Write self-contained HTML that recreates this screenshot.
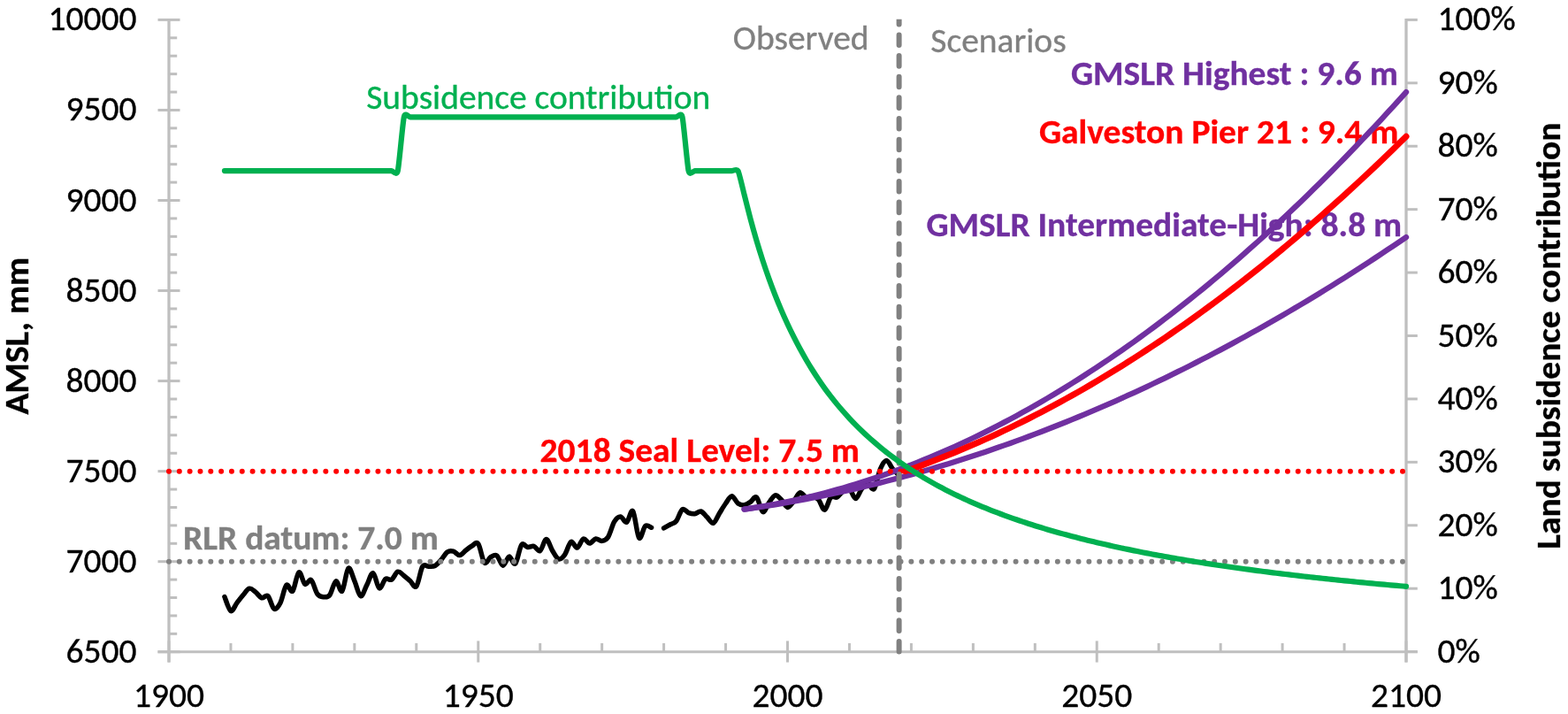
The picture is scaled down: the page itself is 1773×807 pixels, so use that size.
<!DOCTYPE html>
<html><head><meta charset="utf-8"><title>Galveston relative sea level</title>
<style>
html,body{margin:0;padding:0;background:#fff;}
svg{display:block;font-family:Carlito,"Liberation Sans",sans-serif;}
text{white-space:pre;}
</style></head>
<body>
<svg width="1773" height="807" viewBox="0 0 1773 807">
<defs><clipPath id="clipTop"><rect x="0" y="21.8" width="1773" height="800"/></clipPath></defs>
<rect width="1773" height="807" fill="#fff"/>
<!-- annotation texts (below lines) -->
<g font-size="39.5"><text x="414.20" y="122.90" fill="#00b050" stroke="#00b050" stroke-width="0.35" textLength="389.19" lengthAdjust="spacingAndGlyphs">Subsidence contribution</text>
<text x="828.80" y="56.20" fill="#808080" stroke="#808080" stroke-width="0.35" textLength="153.83" lengthAdjust="spacingAndGlyphs">Observed</text>
<text x="1052.30" y="58.70" fill="#808080" stroke="#808080" stroke-width="0.35" textLength="153.3" lengthAdjust="spacingAndGlyphs">Scenarios</text>
<text transform="matrix(1,0,0,0.96,1210.90,95.80)" fill="#7030a0" stroke="#7030a0" stroke-width="0.35" textLength="369.95" lengthAdjust="spacingAndGlyphs" font-weight="bold">GMSLR Highest : 9.6 m</text>
<text transform="matrix(1,0,0,0.96,1174.90,161.70)" fill="#ff0000" stroke="#ff0000" stroke-width="0.35" textLength="406.44" lengthAdjust="spacingAndGlyphs" font-weight="bold">Galveston Pier 21 : 9.4 m</text>
<text transform="matrix(1,0,0,0.96,1047.40,266.60)" fill="#7030a0" stroke="#7030a0" stroke-width="0.35" textLength="537.8" lengthAdjust="spacingAndGlyphs" font-weight="bold">GMSLR Intermediate-High: 8.8 m</text>
<text transform="matrix(1,0,0,0.96,610.60,521.50)" fill="#ff0000" stroke="#ff0000" stroke-width="0.35" textLength="361.34" lengthAdjust="spacingAndGlyphs" font-weight="bold">2018 Seal Level: 7.5 m</text>
<text transform="matrix(1,0,0,0.96,207.10,620.80)" fill="#808080" stroke="#808080" stroke-width="0.35" textLength="288.84" lengthAdjust="spacingAndGlyphs" font-weight="bold">RLR datum: 7.0 m</text>
<text transform="translate(32.20,379.70) rotate(-90) scale(1,0.96)" fill="#000" stroke="#000" stroke-width="0.35" text-anchor="middle" textLength="177.72" lengthAdjust="spacingAndGlyphs" font-weight="bold">AMSL, mm</text>
<text transform="translate(1764.40,379.70) rotate(-90) scale(1,0.96)" fill="#000" stroke="#000" stroke-width="0.35" text-anchor="middle" textLength="482.17" lengthAdjust="spacingAndGlyphs" font-weight="bold">Land subsidence contribution</text></g>
<g stroke="#bfbfbf" stroke-width="3.0" fill="none"><line x1="191.0" y1="20.90" x2="191.0" y2="748.6" stroke-width="3.3"/><line x1="1590" y1="20.90" x2="1590" y2="748.6" stroke-width="3.3"/><line x1="178.5" y1="736.8" x2="1602.8" y2="736.8"/><line x1="178.5" y1="736.75" x2="203.5" y2="736.75"/><line x1="191.0" y1="716.34" x2="200.2" y2="716.34"/><line x1="191.0" y1="695.93" x2="200.2" y2="695.93"/><line x1="191.0" y1="675.52" x2="200.2" y2="675.52"/><line x1="191.0" y1="655.11" x2="200.2" y2="655.11"/><line x1="178.5" y1="634.70" x2="203.5" y2="634.70"/><line x1="191.0" y1="614.29" x2="200.2" y2="614.29"/><line x1="191.0" y1="593.88" x2="200.2" y2="593.88"/><line x1="191.0" y1="573.47" x2="200.2" y2="573.47"/><line x1="191.0" y1="553.06" x2="200.2" y2="553.06"/><line x1="178.5" y1="532.65" x2="203.5" y2="532.65"/><line x1="191.0" y1="512.24" x2="200.2" y2="512.24"/><line x1="191.0" y1="491.83" x2="200.2" y2="491.83"/><line x1="191.0" y1="471.42" x2="200.2" y2="471.42"/><line x1="191.0" y1="451.01" x2="200.2" y2="451.01"/><line x1="178.5" y1="430.60" x2="203.5" y2="430.60"/><line x1="191.0" y1="410.19" x2="200.2" y2="410.19"/><line x1="191.0" y1="389.78" x2="200.2" y2="389.78"/><line x1="191.0" y1="369.37" x2="200.2" y2="369.37"/><line x1="191.0" y1="348.96" x2="200.2" y2="348.96"/><line x1="178.5" y1="328.55" x2="203.5" y2="328.55"/><line x1="191.0" y1="308.14" x2="200.2" y2="308.14"/><line x1="191.0" y1="287.73" x2="200.2" y2="287.73"/><line x1="191.0" y1="267.32" x2="200.2" y2="267.32"/><line x1="191.0" y1="246.91" x2="200.2" y2="246.91"/><line x1="178.5" y1="226.50" x2="203.5" y2="226.50"/><line x1="191.0" y1="206.09" x2="200.2" y2="206.09"/><line x1="191.0" y1="185.68" x2="200.2" y2="185.68"/><line x1="191.0" y1="165.27" x2="200.2" y2="165.27"/><line x1="191.0" y1="144.86" x2="200.2" y2="144.86"/><line x1="178.5" y1="124.45" x2="203.5" y2="124.45"/><line x1="191.0" y1="104.04" x2="200.2" y2="104.04"/><line x1="191.0" y1="83.63" x2="200.2" y2="83.63"/><line x1="191.0" y1="63.22" x2="200.2" y2="63.22"/><line x1="191.0" y1="42.81" x2="200.2" y2="42.81"/><line x1="178.5" y1="22.40" x2="203.5" y2="22.40"/><line x1="1590" y1="736.60" x2="1602.8" y2="736.60"/><line x1="1590" y1="665.18" x2="1602.8" y2="665.18"/><line x1="1590" y1="593.76" x2="1602.8" y2="593.76"/><line x1="1590" y1="522.34" x2="1602.8" y2="522.34"/><line x1="1590" y1="450.92" x2="1602.8" y2="450.92"/><line x1="1590" y1="379.50" x2="1602.8" y2="379.50"/><line x1="1590" y1="308.08" x2="1602.8" y2="308.08"/><line x1="1590" y1="236.66" x2="1602.8" y2="236.66"/><line x1="1590" y1="165.24" x2="1602.8" y2="165.24"/><line x1="1590" y1="93.82" x2="1602.8" y2="93.82"/><line x1="1590" y1="22.40" x2="1602.8" y2="22.40"/><line x1="191.00" y1="724.4" x2="191.00" y2="748.6"/><line x1="260.95" y1="727" x2="260.95" y2="736.8"/><line x1="330.90" y1="727" x2="330.90" y2="736.8"/><line x1="400.85" y1="727" x2="400.85" y2="736.8"/><line x1="470.80" y1="727" x2="470.80" y2="736.8"/><line x1="540.75" y1="724.4" x2="540.75" y2="748.6"/><line x1="610.70" y1="727" x2="610.70" y2="736.8"/><line x1="680.65" y1="727" x2="680.65" y2="736.8"/><line x1="750.60" y1="727" x2="750.60" y2="736.8"/><line x1="820.55" y1="727" x2="820.55" y2="736.8"/><line x1="890.50" y1="724.4" x2="890.50" y2="748.6"/><line x1="960.45" y1="727" x2="960.45" y2="736.8"/><line x1="1030.40" y1="727" x2="1030.40" y2="736.8"/><line x1="1100.35" y1="727" x2="1100.35" y2="736.8"/><line x1="1170.30" y1="727" x2="1170.30" y2="736.8"/><line x1="1240.25" y1="724.4" x2="1240.25" y2="748.6"/><line x1="1310.20" y1="727" x2="1310.20" y2="736.8"/><line x1="1380.15" y1="727" x2="1380.15" y2="736.8"/><line x1="1450.10" y1="727" x2="1450.10" y2="736.8"/><line x1="1520.05" y1="727" x2="1520.05" y2="736.8"/><line x1="1590.00" y1="724.4" x2="1590.00" y2="748.6"/></g>
<g font-size="39.5"><text x="154.50" y="748.75" fill="#000" stroke="#000" stroke-width="0.35" text-anchor="end" textLength="80.09" lengthAdjust="spacingAndGlyphs">6500</text><text x="154.50" y="646.70" fill="#000" stroke="#000" stroke-width="0.35" text-anchor="end" textLength="80.09" lengthAdjust="spacingAndGlyphs">7000</text><text x="154.50" y="544.65" fill="#000" stroke="#000" stroke-width="0.35" text-anchor="end" textLength="80.09" lengthAdjust="spacingAndGlyphs">7500</text><text x="154.50" y="442.60" fill="#000" stroke="#000" stroke-width="0.35" text-anchor="end" textLength="80.09" lengthAdjust="spacingAndGlyphs">8000</text><text x="154.50" y="340.55" fill="#000" stroke="#000" stroke-width="0.35" text-anchor="end" textLength="80.09" lengthAdjust="spacingAndGlyphs">8500</text><text x="154.50" y="238.50" fill="#000" stroke="#000" stroke-width="0.35" text-anchor="end" textLength="80.09" lengthAdjust="spacingAndGlyphs">9000</text><text x="154.50" y="136.45" fill="#000" stroke="#000" stroke-width="0.35" text-anchor="end" textLength="80.09" lengthAdjust="spacingAndGlyphs">9500</text><text x="154.50" y="34.40" fill="#000" stroke="#000" stroke-width="0.35" text-anchor="end" textLength="100.11" lengthAdjust="spacingAndGlyphs">10000</text><text x="1625.50" y="748.60" fill="#000" stroke="#000" stroke-width="0.35" textLength="48.27" lengthAdjust="spacingAndGlyphs">0%</text><text x="1625.50" y="677.18" fill="#000" stroke="#000" stroke-width="0.35" textLength="68.28" lengthAdjust="spacingAndGlyphs">10%</text><text x="1625.50" y="605.76" fill="#000" stroke="#000" stroke-width="0.35" textLength="68.28" lengthAdjust="spacingAndGlyphs">20%</text><text x="1625.50" y="534.34" fill="#000" stroke="#000" stroke-width="0.35" textLength="68.28" lengthAdjust="spacingAndGlyphs">30%</text><text x="1625.50" y="462.92" fill="#000" stroke="#000" stroke-width="0.35" textLength="68.28" lengthAdjust="spacingAndGlyphs">40%</text><text x="1625.50" y="391.50" fill="#000" stroke="#000" stroke-width="0.35" textLength="68.28" lengthAdjust="spacingAndGlyphs">50%</text><text x="1625.50" y="320.08" fill="#000" stroke="#000" stroke-width="0.35" textLength="68.28" lengthAdjust="spacingAndGlyphs">60%</text><text x="1625.50" y="248.66" fill="#000" stroke="#000" stroke-width="0.35" textLength="68.28" lengthAdjust="spacingAndGlyphs">70%</text><text x="1625.50" y="177.24" fill="#000" stroke="#000" stroke-width="0.35" textLength="68.28" lengthAdjust="spacingAndGlyphs">80%</text><text x="1625.50" y="105.82" fill="#000" stroke="#000" stroke-width="0.35" textLength="68.28" lengthAdjust="spacingAndGlyphs">90%</text><text x="1625.50" y="34.40" fill="#000" stroke="#000" stroke-width="0.35" textLength="88.3" lengthAdjust="spacingAndGlyphs">100%</text><text x="191.00" y="799.40" fill="#000" stroke="#000" stroke-width="0.35" text-anchor="middle" textLength="80.09" lengthAdjust="spacingAndGlyphs">1900</text><text x="540.75" y="799.40" fill="#000" stroke="#000" stroke-width="0.35" text-anchor="middle" textLength="80.09" lengthAdjust="spacingAndGlyphs">1950</text><text x="890.50" y="799.40" fill="#000" stroke="#000" stroke-width="0.35" text-anchor="middle" textLength="80.09" lengthAdjust="spacingAndGlyphs">2000</text><text x="1240.25" y="799.40" fill="#000" stroke="#000" stroke-width="0.35" text-anchor="middle" textLength="80.09" lengthAdjust="spacingAndGlyphs">2050</text><text x="1590.00" y="799.40" fill="#000" stroke="#000" stroke-width="0.35" text-anchor="middle" textLength="80.09" lengthAdjust="spacingAndGlyphs">2100</text></g>
<!-- series -->
<g fill="none" stroke-linecap="round" stroke-linejoin="round">
<path d="M253.95,674.50C255.12,677.17 258.62,689.35 260.95,690.50C263.28,691.65 265.61,684.40 267.94,681.40C270.28,678.40 272.61,675.20 274.94,672.50C277.27,669.80 279.60,665.77 281.94,665.20C284.27,664.63 286.60,667.33 288.93,669.10C291.26,670.87 293.59,675.05 295.93,675.80C298.26,676.55 300.59,671.55 302.92,673.60C305.25,675.65 307.58,686.80 309.92,688.10C312.25,689.40 314.58,685.87 316.91,681.40C319.24,676.93 321.57,663.53 323.90,661.30C326.24,659.07 328.57,670.42 330.90,668.00C333.23,665.58 335.56,648.10 337.89,646.80C340.23,645.50 342.56,658.72 344.89,660.20C347.22,661.68 349.55,653.85 351.88,655.70C354.22,657.55 356.55,668.13 358.88,671.30C361.21,674.47 363.54,674.50 365.88,674.70C368.21,674.90 370.54,675.48 372.87,672.50C375.20,669.52 377.53,657.55 379.87,656.80C382.20,656.05 384.53,670.40 386.86,668.00C389.19,665.60 391.52,644.30 393.86,642.40C396.19,640.50 398.52,651.38 400.85,656.60C403.18,661.82 405.51,672.95 407.85,673.70C410.18,674.45 412.51,665.43 414.84,661.10C417.17,656.77 419.50,647.08 421.84,647.70C424.17,648.32 426.50,663.68 428.83,664.80C431.16,665.92 433.49,656.02 435.83,654.40C438.16,652.78 440.49,656.47 442.82,655.10C445.15,653.73 447.48,646.93 449.81,646.20C452.15,645.47 454.48,648.97 456.81,650.70C459.14,652.43 461.47,654.62 463.81,656.60C466.14,658.58 468.47,665.32 470.80,662.60C473.13,659.88 475.46,644.02 477.80,640.30C480.13,636.58 482.46,640.43 484.79,640.30C487.12,640.17 489.45,640.75 491.79,639.50C494.12,638.25 496.45,635.40 498.78,632.80C501.11,630.20 503.44,625.50 505.77,623.90C508.11,622.30 510.44,622.58 512.77,623.20C515.10,623.82 517.43,627.80 519.76,627.60C522.10,627.40 524.43,623.77 526.76,622.00C529.09,620.23 531.42,618.23 533.75,617.00C536.09,615.77 538.42,611.47 540.75,614.60C543.08,617.73 545.41,633.28 547.75,635.80C550.08,638.32 552.41,631.00 554.74,629.70C557.07,628.40 559.40,626.42 561.74,628.00C564.07,629.58 566.40,639.02 568.73,639.20C571.06,639.38 573.39,629.47 575.73,629.10C578.06,628.73 580.39,639.22 582.72,637.00C585.05,634.78 587.38,618.88 589.72,615.80C592.05,612.72 594.38,618.23 596.71,618.50C599.04,618.77 601.37,616.73 603.70,617.40C606.04,618.07 608.37,623.80 610.70,622.50C613.03,621.20 615.36,609.60 617.69,609.60C620.03,609.60 622.36,618.78 624.69,622.50C627.02,626.22 629.35,631.17 631.68,631.90C634.02,632.63 636.35,630.15 638.68,626.90C641.01,623.65 643.34,613.70 645.67,612.40C648.01,611.10 650.34,619.67 652.67,619.10C655.00,618.53 657.33,609.85 659.66,609.00C662.00,608.15 664.33,614.00 666.66,614.00C668.99,614.00 671.32,609.43 673.65,609.00C675.99,608.57 678.32,611.75 680.65,611.40C682.98,611.05 685.31,610.53 687.64,606.90C689.98,603.27 692.31,593.42 694.64,589.60C696.97,585.78 699.30,583.90 701.63,584.00C703.97,584.10 706.30,591.23 708.63,590.20C710.96,589.17 713.29,574.83 715.62,577.80C717.96,580.77 720.29,605.20 722.62,608.00C724.95,610.80 727.28,596.55 729.62,594.60C731.95,592.65 735.44,596.02 736.61,596.30M750.60,596.90C751.77,596.25 755.26,594.32 757.60,593.00C759.93,591.68 762.26,591.87 764.59,589.00C766.92,586.13 769.25,577.37 771.59,575.80C773.92,574.23 776.25,578.78 778.58,579.60C780.91,580.42 783.24,580.97 785.58,580.70C787.91,580.43 790.24,577.35 792.57,578.00C794.90,578.65 797.23,582.38 799.57,584.60C801.90,586.82 804.23,592.07 806.56,591.30C808.89,590.53 811.22,583.72 813.56,580.00C815.89,576.28 818.22,572.20 820.55,569.00C822.88,565.80 825.21,560.80 827.54,560.80C829.88,560.80 832.21,567.33 834.54,569.00C836.87,570.67 839.20,571.08 841.53,570.80C843.87,570.52 846.20,568.75 848.53,567.30C850.86,565.85 853.19,560.22 855.52,562.10C857.86,563.98 860.19,577.58 862.52,578.60C864.85,579.62 867.18,571.33 869.51,568.20C871.85,565.07 874.18,560.38 876.51,559.80C878.84,559.22 881.17,562.43 883.50,564.70C885.84,566.97 888.17,573.12 890.50,573.40C892.83,573.68 895.16,569.15 897.50,566.40C899.83,563.65 902.16,557.63 904.49,556.90C906.82,556.17 909.15,561.32 911.49,562.00C913.82,562.68 916.15,560.55 918.48,561.00C920.81,561.45 923.14,562.15 925.48,564.70C927.81,567.25 930.14,576.75 932.47,576.30C934.80,575.85 937.13,564.38 939.47,562.00C941.80,559.62 944.13,563.17 946.46,562.00C948.79,560.83 951.12,556.60 953.46,555.00C955.79,553.40 958.12,550.97 960.45,552.40C962.78,553.83 965.11,563.60 967.45,563.60C969.78,563.60 972.11,555.20 974.44,552.40C976.77,549.60 979.10,546.80 981.44,546.80C983.77,546.80 986.10,555.20 988.43,552.40C990.76,549.60 993.09,535.32 995.43,530.00C997.76,524.68 1000.09,520.50 1002.42,520.50C1004.75,520.50 1007.08,527.25 1009.41,530.00C1011.75,532.75 1015.24,535.83 1016.41,537.00" stroke="#000" stroke-width="5.5"/>
<line x1="191.0" y1="634.70" x2="1590" y2="634.70" stroke="#808080" stroke-width="6" stroke-dasharray="0 11.822"/>
<path d="M841.53,575.58 L848.53,574.59 L855.52,573.56 L862.52,572.50 L869.51,571.41 L876.51,570.27 L883.50,569.11 L890.50,567.90 L897.50,566.67 L904.49,565.39 L911.49,564.08 L918.48,562.74 L925.48,561.36 L932.47,559.94 L939.47,558.49 L946.46,557.00 L953.46,555.48 L960.45,553.92 L967.45,552.33 L974.44,550.70 L981.44,549.03 L988.43,547.33 L995.43,545.59 L1002.42,543.82 L1009.41,542.02 L1016.41,540.17 L1023.40,538.29 L1030.40,536.38 L1037.39,534.43 L1044.39,532.45 L1051.38,530.43 L1058.38,528.37 L1065.38,526.28 L1072.37,524.15 L1079.37,521.99 L1086.36,519.79 L1093.36,517.55 L1100.35,515.29 L1107.35,512.98 L1114.34,510.64 L1121.34,508.26 L1128.33,505.85 L1135.33,503.40 L1142.32,500.92 L1149.32,498.40 L1156.31,495.85 L1163.31,493.26 L1170.30,490.64 L1177.30,487.97 L1184.29,485.28 L1191.28,482.55 L1198.28,479.78 L1205.28,476.98 L1212.27,474.14 L1219.27,471.26 L1226.26,468.35 L1233.26,465.41 L1240.25,462.43 L1247.25,459.41 L1254.24,456.36 L1261.24,453.27 L1268.23,450.15 L1275.22,446.99 L1282.22,443.80 L1289.21,440.57 L1296.21,437.30 L1303.20,434.00 L1310.20,430.67 L1317.19,427.30 L1324.19,423.89 L1331.18,420.45 L1338.18,416.97 L1345.17,413.45 L1352.17,409.90 L1359.16,406.32 L1366.16,402.70 L1373.15,399.04 L1380.15,395.35 L1387.14,391.62 L1394.14,387.86 L1401.13,384.06 L1408.13,380.23 L1415.12,376.36 L1422.12,372.45 L1429.12,368.51 L1436.11,364.54 L1443.11,360.53 L1450.10,356.48 L1457.10,352.40 L1464.09,348.28 L1471.09,344.12 L1478.08,339.94 L1485.08,335.71 L1492.07,331.45 L1499.07,327.15 L1506.06,322.82 L1513.06,318.45 L1520.05,314.05 L1527.05,309.61 L1534.04,305.14 L1541.04,300.63 L1548.03,296.09 L1555.03,291.50 L1562.02,286.89 L1569.02,282.24 L1576.01,277.55 L1583.01,272.83 L1590.00,268.07" stroke="#7030a0" stroke-width="6.3"/>
<path d="M841.53,575.56 L848.53,574.53 L855.52,573.44 L862.52,572.28 L869.51,571.05 L876.51,569.77 L883.50,568.42 L890.50,567.00 L897.50,565.53 L904.49,563.99 L911.49,562.38 L918.48,560.71 L925.48,558.98 L932.47,557.18 L939.47,555.32 L946.46,553.40 L953.46,551.41 L960.45,549.36 L967.45,547.25 L974.44,545.07 L981.44,542.83 L988.43,540.52 L995.43,538.16 L1002.42,535.72 L1009.41,533.23 L1016.41,530.67 L1023.40,528.04 L1030.40,525.36 L1037.39,522.60 L1044.39,519.79 L1051.38,516.91 L1058.38,513.97 L1065.38,510.96 L1072.37,507.89 L1079.37,504.76 L1086.36,501.56 L1093.36,498.30 L1100.35,494.98 L1107.35,491.59 L1114.34,488.14 L1121.34,484.62 L1128.33,481.05 L1135.33,477.40 L1142.32,473.70 L1149.32,469.93 L1156.31,466.09 L1163.31,462.20 L1170.30,458.24 L1177.30,454.21 L1184.29,450.12 L1191.28,445.97 L1198.28,441.75 L1205.28,437.48 L1212.27,433.13 L1219.27,428.73 L1226.26,424.25 L1233.26,419.72 L1240.25,415.12 L1247.25,410.46 L1254.24,405.74 L1261.24,400.95 L1268.23,396.10 L1275.22,391.18 L1282.22,386.20 L1289.21,381.16 L1296.21,376.05 L1303.20,370.88 L1310.20,365.64 L1317.19,360.34 L1324.19,354.98 L1331.18,349.56 L1338.18,344.07 L1345.17,338.52 L1352.17,332.90 L1359.16,327.22 L1366.16,321.47 L1373.15,315.67 L1380.15,309.80 L1387.14,303.86 L1394.14,297.86 L1401.13,291.80 L1408.13,285.67 L1415.12,279.48 L1422.12,273.23 L1429.12,266.91 L1436.11,260.53 L1443.11,254.09 L1450.10,247.58 L1457.10,241.01 L1464.09,234.37 L1471.09,227.67 L1478.08,220.91 L1485.08,214.08 L1492.07,207.19 L1499.07,200.24 L1506.06,193.22 L1513.06,186.14 L1520.05,179.00 L1527.05,171.79 L1534.04,164.51 L1541.04,157.18 L1548.03,149.78 L1555.03,142.32 L1562.02,134.79 L1569.02,127.20 L1576.01,119.54 L1583.01,111.83 L1590.00,104.04" stroke="#7030a0" stroke-width="6.3"/>
<path d="M1023.40,532.65 L1030.40,530.19 L1037.39,527.68 L1044.39,525.11 L1051.38,522.49 L1058.38,519.81 L1065.38,517.08 L1072.37,514.29 L1079.37,511.45 L1086.36,508.55 L1093.36,505.59 L1100.35,502.58 L1107.35,499.52 L1114.34,496.40 L1121.34,493.22 L1128.33,489.99 L1135.33,486.70 L1142.32,483.36 L1149.32,479.96 L1156.31,476.50 L1163.31,473.00 L1170.30,469.43 L1177.30,465.81 L1184.29,462.14 L1191.28,458.41 L1198.28,454.62 L1205.28,450.78 L1212.27,446.88 L1219.27,442.93 L1226.26,438.92 L1233.26,434.86 L1240.25,430.74 L1247.25,426.57 L1254.24,422.34 L1261.24,418.05 L1268.23,413.71 L1275.22,409.32 L1282.22,404.87 L1289.21,400.36 L1296.21,395.80 L1303.20,391.18 L1310.20,386.51 L1317.19,381.78 L1324.19,377.00 L1331.18,372.16 L1338.18,367.27 L1345.17,362.32 L1352.17,357.32 L1359.16,352.26 L1366.16,347.14 L1373.15,341.97 L1380.15,336.74 L1387.14,331.46 L1394.14,326.13 L1401.13,320.73 L1408.13,315.29 L1415.12,309.78 L1422.12,304.22 L1429.12,298.61 L1436.11,292.94 L1443.11,287.22 L1450.10,281.44 L1457.10,275.60 L1464.09,269.71 L1471.09,263.76 L1478.08,257.76 L1485.08,251.70 L1492.07,245.59 L1499.07,239.42 L1506.06,233.20 L1513.06,226.92 L1520.05,220.59 L1527.05,214.20 L1534.04,207.75 L1541.04,201.25 L1548.03,194.70 L1555.03,188.09 L1562.02,181.42 L1569.02,174.70 L1576.01,167.92 L1583.01,161.09 L1590.00,154.20" stroke="#ff0000" stroke-width="7"/>
<line x1="191.0" y1="532.65" x2="1590" y2="532.65" stroke="#ff0000" stroke-width="6" stroke-dasharray="0 11.822"/>
<line x1="1016.6" y1="736.6" x2="1016.6" y2="10" stroke="#808080" stroke-width="6" stroke-dasharray="11.6 12.04" clip-path="url(#clipTop)"/>
<path d="M253.95,193.09C254.65,193.09 259.55,193.09 260.95,193.09C262.35,193.09 266.55,193.09 267.94,193.09C269.34,193.09 273.54,193.09 274.94,193.09C276.34,193.09 280.54,193.09 281.94,193.09C283.33,193.09 287.53,193.09 288.93,193.09C290.33,193.09 294.53,193.09 295.93,193.09C297.32,193.09 301.52,193.09 302.92,193.09C304.32,193.09 308.52,193.09 309.92,193.09C311.31,193.09 315.51,193.09 316.91,193.09C318.31,193.09 322.51,193.09 323.90,193.09C325.30,193.09 329.50,193.09 330.90,193.09C332.30,193.09 336.50,193.09 337.89,193.09C339.29,193.09 343.49,193.09 344.89,193.09C346.29,193.09 350.49,193.09 351.88,193.09C353.28,193.09 357.48,193.09 358.88,193.09C360.28,193.09 364.48,193.09 365.88,193.09C367.27,193.09 371.47,193.09 372.87,193.09C374.27,193.09 378.47,193.09 379.87,193.09C381.26,193.09 385.46,193.09 386.86,193.09C388.26,193.09 392.46,193.09 393.86,193.09C395.25,193.09 399.45,193.09 400.85,193.09C402.25,193.09 406.45,193.09 407.85,193.09C409.24,193.09 413.44,193.09 414.84,193.09C416.24,193.09 420.44,193.09 421.84,193.09C423.23,193.09 427.43,193.09 428.83,193.09C430.23,193.09 434.43,193.09 435.83,193.09C437.22,193.09 441.42,193.09 442.82,193.09C444.22,193.09 448.42,199.16 449.81,193.09C451.21,187.02 455.41,138.46 456.81,132.39C458.21,126.32 462.41,132.39 463.81,132.39C465.20,132.39 469.40,132.39 470.80,132.39C472.20,132.39 476.40,132.39 477.80,132.39C479.19,132.39 483.39,132.39 484.79,132.39C486.19,132.39 490.39,132.39 491.79,132.39C493.18,132.39 497.38,132.39 498.78,132.39C500.18,132.39 504.38,132.39 505.77,132.39C507.17,132.39 511.37,132.39 512.77,132.39C514.17,132.39 518.37,132.39 519.76,132.39C521.16,132.39 525.36,132.39 526.76,132.39C528.16,132.39 532.36,132.39 533.75,132.39C535.15,132.39 539.35,132.39 540.75,132.39C542.15,132.39 546.35,132.39 547.75,132.39C549.14,132.39 553.34,132.39 554.74,132.39C556.14,132.39 560.34,132.39 561.74,132.39C563.13,132.39 567.33,132.39 568.73,132.39C570.13,132.39 574.33,132.39 575.73,132.39C577.12,132.39 581.32,132.39 582.72,132.39C584.12,132.39 588.32,132.39 589.72,132.39C591.11,132.39 595.31,132.39 596.71,132.39C598.11,132.39 602.31,132.39 603.70,132.39C605.10,132.39 609.30,132.39 610.70,132.39C612.10,132.39 616.30,132.39 617.69,132.39C619.09,132.39 623.29,132.39 624.69,132.39C626.09,132.39 630.29,132.39 631.68,132.39C633.08,132.39 637.28,132.39 638.68,132.39C640.08,132.39 644.28,132.39 645.67,132.39C647.07,132.39 651.27,132.39 652.67,132.39C654.07,132.39 658.27,132.39 659.66,132.39C661.06,132.39 665.26,132.39 666.66,132.39C668.06,132.39 672.26,132.39 673.65,132.39C675.05,132.39 679.25,132.39 680.65,132.39C682.05,132.39 686.25,132.39 687.64,132.39C689.04,132.39 693.24,132.39 694.64,132.39C696.04,132.39 700.24,132.39 701.63,132.39C703.03,132.39 707.23,132.39 708.63,132.39C710.03,132.39 714.23,132.39 715.62,132.39C717.02,132.39 721.22,132.39 722.62,132.39C724.02,132.39 728.22,132.39 729.62,132.39C731.01,132.39 735.21,132.39 736.61,132.39C738.01,132.39 742.21,132.39 743.61,132.39C745.00,132.39 749.20,132.39 750.60,132.39C752.00,132.39 756.20,132.39 757.60,132.39C758.99,132.39 763.19,132.39 764.59,132.39C765.99,132.39 770.19,126.32 771.59,132.39C772.98,138.46 777.18,187.02 778.58,193.09C779.98,199.16 784.18,193.09 785.58,193.09C786.97,193.09 791.17,193.09 792.57,193.09C793.97,193.09 798.17,193.09 799.57,193.09C800.96,193.09 805.16,193.09 806.56,193.09C807.96,193.09 812.16,193.09 813.56,193.09C814.95,193.09 819.15,193.09 820.55,193.09C821.95,193.09 826.15,193.09 827.54,193.09C828.94,193.09 833.14,190.43 834.54,193.09C835.94,195.76 840.14,214.30 841.53,219.73C842.93,225.15 847.13,242.10 848.53,247.34C849.93,252.59 854.13,267.44 855.52,272.17C856.92,276.90 861.12,290.33 862.52,294.61C863.92,298.90 868.12,311.10 869.51,314.99C870.91,318.89 875.11,330.03 876.51,333.59C877.91,337.15 882.11,347.35 883.50,350.62C884.90,353.89 889.10,363.26 890.50,366.27C891.90,369.28 896.10,377.93 897.50,380.71C898.89,383.49 903.09,391.50 904.49,394.08C905.89,396.65 910.09,404.08 911.49,406.48C912.88,408.87 917.08,415.79 918.48,418.02C919.88,420.25 924.08,426.70 925.48,428.78C926.87,430.87 931.07,436.91 932.47,438.85C933.87,440.78 938.07,446.34 939.47,448.14C940.86,449.94 945.06,455.16 946.46,456.86C947.86,458.55 952.06,463.46 953.46,465.06C954.85,466.65 959.05,471.28 960.45,472.79C961.85,474.29 966.05,478.66 967.45,480.08C968.84,481.50 973.04,485.64 974.44,486.99C975.84,488.33 980.04,492.25 981.44,493.52C982.83,494.80 987.03,498.52 988.43,499.72C989.83,500.93 994.03,504.47 995.43,505.62C996.82,506.77 1001.02,510.13 1002.42,511.22C1003.82,512.31 1008.02,515.51 1009.41,516.56C1010.81,517.60 1015.01,520.65 1016.41,521.65C1017.81,522.64 1022.01,525.56 1023.40,526.51C1024.80,527.46 1029.00,530.24 1030.40,531.15C1031.80,532.06 1036.00,534.72 1037.39,535.59C1038.79,536.46 1042.99,539.01 1044.39,539.85C1045.79,540.68 1049.99,543.13 1051.38,543.92C1052.78,544.72 1056.98,547.07 1058.38,547.84C1059.78,548.60 1063.98,550.86 1065.38,551.59C1066.77,552.33 1070.97,554.50 1072.37,555.21C1073.77,555.91 1077.97,558.00 1079.37,558.68C1080.76,559.36 1084.96,561.36 1086.36,562.02C1087.76,562.68 1091.96,564.61 1093.36,565.24C1094.75,565.87 1098.95,567.74 1100.35,568.34C1101.75,568.95 1105.95,570.75 1107.35,571.34C1108.74,571.93 1112.94,573.66 1114.34,574.23C1115.74,574.80 1119.94,576.47 1121.34,577.02C1122.73,577.57 1126.93,579.19 1128.33,579.72C1129.73,580.25 1133.93,581.81 1135.33,582.32C1136.72,582.84 1140.92,584.35 1142.32,584.85C1143.72,585.34 1147.92,586.81 1149.32,587.29C1150.71,587.77 1154.91,589.19 1156.31,589.66C1157.71,590.12 1161.91,591.50 1163.31,591.95C1164.70,592.40 1168.90,593.73 1170.30,594.17C1171.70,594.61 1175.90,595.90 1177.30,596.33C1178.69,596.75 1182.89,598.01 1184.29,598.42C1185.69,598.83 1189.89,600.05 1191.28,600.45C1192.68,600.85 1196.88,602.04 1198.28,602.42C1199.68,602.81 1203.88,603.96 1205.28,604.34C1206.67,604.72 1210.87,605.84 1212.27,606.21C1213.67,606.57 1217.87,607.66 1219.27,608.02C1220.66,608.38 1224.86,609.43 1226.26,609.78C1227.66,610.13 1231.86,611.16 1233.26,611.50C1234.65,611.84 1238.85,612.84 1240.25,613.17C1241.65,613.50 1245.85,614.48 1247.25,614.80C1248.64,615.12 1252.84,616.07 1254.24,616.38C1255.64,616.70 1259.84,617.62 1261.24,617.93C1262.63,618.23 1266.83,619.14 1268.23,619.43C1269.63,619.73 1273.83,620.61 1275.22,620.90C1276.62,621.19 1280.82,622.05 1282.22,622.34C1283.62,622.62 1287.82,623.46 1289.21,623.73C1290.61,624.01 1294.81,624.83 1296.21,625.10C1297.61,625.37 1301.81,626.17 1303.20,626.43C1304.60,626.70 1308.80,627.48 1310.20,627.74C1311.60,627.99 1315.80,628.76 1317.19,629.01C1318.59,629.26 1322.79,630.00 1324.19,630.25C1325.59,630.50 1329.79,631.23 1331.18,631.47C1332.58,631.71 1336.78,632.42 1338.18,632.65C1339.58,632.89 1343.78,633.59 1345.17,633.82C1346.57,634.04 1350.77,634.73 1352.17,634.95C1353.57,635.18 1357.77,635.84 1359.16,636.06C1360.56,636.28 1364.76,636.94 1366.16,637.15C1367.56,637.37 1371.76,638.01 1373.15,638.22C1374.55,638.43 1378.75,639.05 1380.15,639.26C1381.55,639.47 1385.75,640.08 1387.14,640.28C1388.54,640.48 1392.74,641.08 1394.14,641.28C1395.54,641.48 1399.74,642.07 1401.13,642.26C1402.53,642.46 1406.73,643.03 1408.13,643.22C1409.53,643.41 1413.73,643.98 1415.12,644.16C1416.52,644.35 1420.72,644.90 1422.12,645.09C1423.52,645.27 1427.72,645.81 1429.12,645.99C1430.51,646.17 1434.71,646.70 1436.11,646.88C1437.51,647.06 1441.71,647.58 1443.11,647.75C1444.50,647.92 1448.70,648.44 1450.10,648.61C1451.50,648.77 1455.70,649.28 1457.10,649.44C1458.49,649.61 1462.69,650.10 1464.09,650.27C1465.49,650.43 1469.69,650.91 1471.09,651.07C1472.48,651.23 1476.68,651.71 1478.08,651.87C1479.48,652.02 1483.68,652.49 1485.08,652.64C1486.47,652.80 1490.67,653.26 1492.07,653.41C1493.47,653.56 1497.67,654.01 1499.07,654.16C1500.46,654.31 1504.66,654.75 1506.06,654.90C1507.46,655.04 1511.66,655.48 1513.06,655.62C1514.45,655.77 1518.65,656.19 1520.05,656.34C1521.45,656.48 1525.65,656.90 1527.05,657.04C1528.44,657.17 1532.64,657.59 1534.04,657.72C1535.44,657.86 1539.64,658.27 1541.04,658.40C1542.43,658.53 1546.63,658.93 1548.03,659.07C1549.43,659.20 1553.63,659.59 1555.03,659.72C1556.42,659.85 1560.62,660.24 1562.02,660.36C1563.42,660.49 1567.62,660.87 1569.02,661.00C1570.41,661.12 1574.61,661.49 1576.01,661.62C1577.41,661.74 1581.61,662.11 1583.01,662.23C1584.40,662.35 1589.30,662.77 1590.00,662.83" stroke="#00b050" stroke-width="6.2"/>
</g>
</svg>
</body></html>
